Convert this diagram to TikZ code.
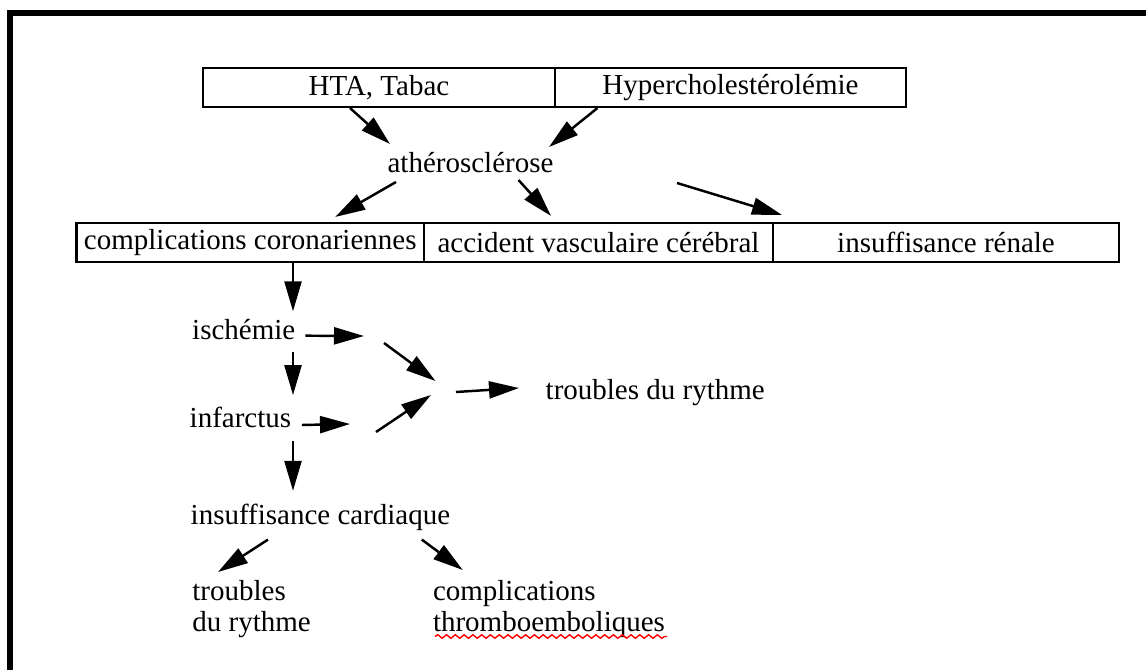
\documentclass[tikz,border=0pt]{standalone}
\usepackage{fontspec}
\setmainfont{Liberation Serif}
\usetikzlibrary{arrows.meta}
\usetikzlibrary{decorations.pathmorphing}

\begin{document}
\begin{tikzpicture}[font=\fontsize{8.25pt}{8.6pt}\selectfont]
\tikzstyle{cell}=[draw, line width=0.6pt, minimum height=0.39cm, inner sep=0pt];
\tikzstyle{word}=[inner sep=0pt, text height=6pt, text depth=1.5pt];
\tikzstyle{lines}=[inner sep=0pt, align=left, anchor=north west];
\tikzstyle{arr}=[line width=0.7pt, -{Triangle[length=0.30cm, width=0.17cm]}];

\useasboundingbox (0,0) rectangle (11.46,-6.70);
\draw[line width=0.06cm] (0.10,-6.70) -- (0.10,-0.13) -- (11.46,-0.13);

\draw (3.79,-0.875) node[cell, minimum width=3.52cm] (hta) {HTA, Tabac};
\draw (7.305,-0.875) node[cell, minimum width=3.51cm] (hyp) {Hypercholestérolémie};

\draw (4.705,-1.65) node[word] (ath) {athérosclérose};

\draw (2.5025,-2.425) node[cell, minimum width=3.475cm] (cc) {complications coronariennes};
\draw (5.985,-2.425) node[cell, minimum width=3.49cm] (avc) {accident vasculaire cérébral};
\draw (9.46,-2.425) node[cell, minimum width=3.46cm] (ir) {insuffisance rénale};

\draw (1.915,-3.317) node[word, anchor=west] (isch) {ischémie};
\draw (1.89,-4.20) node[word, anchor=west] (inf) {infarctus};
\draw (1.90,-5.167) node[word, anchor=west] (ic) {insuffisance cardiaque};
\draw (5.45,-3.92) node[word, anchor=west] (tr) {troubles du rythme};

\draw (1.917,-5.80) node[lines] (trb) {troubles\\du rythme};
\draw (4.323,-5.80) node[lines] (ct) {complications\\thromboemboliques};

\coordinate (col) at (2.93,0);
\coordinate (i1) at (3.64,-3.36);
\coordinate (i2) at (3.84,-3.43);
\coordinate (j) at (4.355,-3.81);
\coordinate (f1) at (3.50,-4.24);
\coordinate (f2) at (3.76,-4.32);
\coordinate (k) at (4.31,-3.95);
\coordinate (t1) at (4.56,-3.92);

\draw[arr] ([xshift=-0.29cm]hta.south) -- ([shift={(-0.805,0.21)}]ath.center);
\draw[arr] ([xshift=-1.33cm]hyp.south) -- ([shift={(0.785,0.18)}]ath.center);

\draw[arr] ([shift={(-0.745,-0.17)}]ath.center) -- ([shift={(0.85,0.05)}]cc.north);
\draw[arr] ([shift={(0.48,-0.15)}]ath.center) -- ([shift={(-0.475,0.06)}]avc.north);
\draw[arr] ([shift={(2.065,-0.18)}]ath.center) -- ([shift={(-1.64,0.07)}]ir.north);

\draw[arr, shorten >=0.065cm] (col |- cc.south) -- (col |- isch.north);
\draw[arr, shorten <=0.06cm, shorten >=0.11cm] (col |- isch.south) -- (col |- inf.north);
\draw[arr, shorten <=0.07cm, shorten >=0.12cm] (col |- inf.south) -- (col |- ic.north);

\draw[arr] ([shift={(0.095,-0.04)}]isch.east) -- (i1);
\draw[arr] (i2) -- (j);
\draw[arr] ([shift={(0.10,-0.05)}]inf.east) -- (f1);
\draw[arr] (f2) -- (k);
\draw[arr] (t1) -- ([shift={(-0.26,0.04)}]tr.west);

\draw[arr] ([shift={(0.78,-0.09)}]ic.south west) -- ([shift={(0.263,0.08)}]trb.north west);
\draw[arr] ([shift={(2.318,-0.09)}]ic.south west) -- ([shift={(0.304,0.10)}]ct.north west);

% red wavy line under the second line
\draw[red, line width=0.4pt, decorate, decoration={snake, amplitude=0.5pt, segment length=2.5pt}] (4.35,-6.365) -- (6.67,-6.365);

\end{tikzpicture}
\end{document}
